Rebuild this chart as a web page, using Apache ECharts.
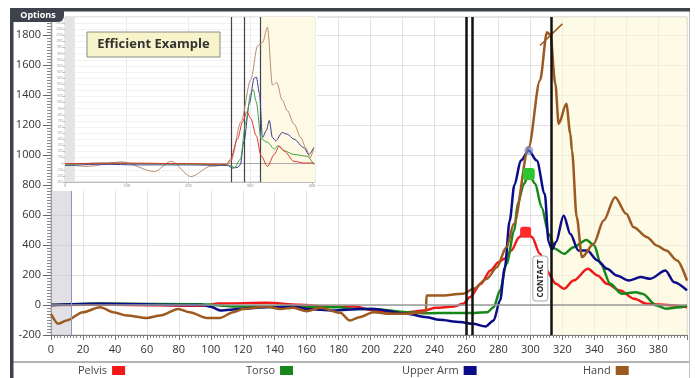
<!DOCTYPE html>
<html lang="en">
<head>
    <meta charset="UTF-8">
    <title>Kinematic sequence</title>
    <script src="https://cdn.jsdelivr.net/npm/echarts@6/dist/echarts.min.js"></script>
    <style>
        html, body { margin: 0; padding: 0; background: #fff; }
        #container { width: 695px; height: 378px; }
    </style>
</head>
<body>
<div id="container"></div>
<script type="text/javascript">
    // main chart: [frame, value]
    let pelvis = [[0,0],[40,2],[95,-5],[105,10],[135,15],[155,2],[175,-12],[190,-10],[201,-35],[212,-48],[223,-48],[233,-37],[241,-19],[252,-10],[258,8],[262,52],[269,141],[275,230],[280,285],[284,310],[288,363],[293,452],[296,485],[298,485],[301,452],[306,341],[310,230],[316,141],[321,108],[327,163],[336,241],[342,197],[348,141],[356,97],[365,41],[373,8],[381,3],[390,-3],[398,-15]];
    let torso = [[0,0],[30,10],[95,5],[114,-10],[135,-10],[156,-15],[181,-15],[187,-26],[202,-26],[223,-48],[235,-55],[250,-53],[265,-53],[273,-48],[277,-15],[281,97],[285,274],[290,497],[292,674],[296,808],[299,874],[303,808],[307,652],[311.5,474],[315.6,374],[321,341],[327,385],[335,434],[340,397],[344,274],[350,141],[357,75],[366,85],[370,75],[379,-3],[385,-25],[393,-15],[398,-3]];
    let upperArm = [[0,0],[30,8],[95,0],[100,-12],[106,-37],[118,-26],[135,-15],[152,-10],[160,-26],[177,-37],[193,-26],[202,-26],[223,-59],[235,-81],[243,-99],[256,-114],[264,-125],[272,-143],[277,-103],[281,30],[284,250],[287,560],[290,800],[294,963],[299,1030],[304,963],[309,741],[311.4,420],[313.5,370],[316,420],[320.8,597],[325,474],[330,363],[335.5,363],[342,297],[348,241],[354,197],[361.5,163],[369,186],[375,175],[384.5,230],[390,152],[398,97]];
    let hand = [[0,-59],[4.6,-125],[9.8,-103],[20,-48],[30.7,-15],[39,-48],[47.4,-70],[60,-86],[68.5,-70],[79.7,-26],[86.8,-48],[97.5,-86],[105.8,-86],[114,-48],[120,-26],[135,-10],[143.4,-26],[151.7,-19],[160,-41],[168.4,-19],[181,-52],[187,-103],[193,-81],[201.8,-48],[212,-59],[222.7,-59],[233,-48],[234.6,-45],[235,63],[243,63],[258,75],[264.4,108],[272.8,175],[279,252],[285,385],[289.7,541],[298.9,1052],[306,1497],[310.4,1819],[312.5,1800],[315.6,1475],[317.7,1208],[322.5,1341],[325,1141],[326,1030],[329,585],[332.3,319],[339.6,408],[345.8,563],[353,719],[360,608],[364.6,519],[373,452],[379,397],[385,363],[391.8,297],[398,163]];
    let peaks = {pelvis: [297, 485], torso: [299, 874], upperArm: [299, 1030]};
    let handTangent = [[306, 1730], [320, 1874]];
    let eventLines = [260, 263.5, 313];
    let startBand = [0, 12.5];
    let contactBand = [313, 398];
    let contactLabelAt = [306.2, 177];

    // inset "Efficient Example"
    let effPelvis = [[0,0],[100,10],[200,0],[262,-10],[268,72],[279.6,406],[287.6,683],[294.6,850],[301,739],[309.7,461],[317.7,128],[328,-44],[339,150],[347,289],[355,206],[371,39],[387,11],[403,11]];
    let effTorso = [[0,-20],[60,10],[120,0],[200,-10],[263,-20],[275,-60],[284,72],[293,683],[301,1155],[305,1211],[309.7,1017],[317.7,406],[328,350],[339,239],[344.6,294],[355,211],[371,150],[392,122],[403,-17]];
    let effUpperArm = [[0,-30],[60,-10],[120,-20],[200,-20],[263,-30],[272,-72],[280,-60],[284,-17],[290,372],[298.6,983],[306.5,1400],[310,1417],[315,1150],[320,428],[326,539],[331,706],[336,428],[341.4,372],[352,511],[360,483],[371,400],[387,261],[395,150],[403,261]];
    let effHand = [[0,-17],[37,-44],[91,30],[145,-128],[172,39],[204,-211],[236,-44],[263,-17],[269,50],[285,683],[301,1372],[312,1928],[320,1980],[328,2233],[336,1289],[343,1328],[352,1039],[360,872],[371,650],[382,428],[390,261],[397,94],[403,261]];
    let effEventLines = [269, 290.5, 317];
    let effStartBand = [0, 16];
    let effContactBand = [317, 405];

    let font = 'Open Sans';
    let dom = document.getElementById("container");
    let myChart = echarts.init(dom);
    let plain = function(v){ return String(v); };

    let legendBase = {
        padding: 0, align: 'right', icon: 'rect', itemWidth: 13, itemHeight: 9, top: 365,
        textStyle: {fontSize: 11, color: '#444', fontFamily: font}
    };
    let mainLine = function(name, data, color, extra){
        return Object.assign({
            name: name, type: 'line', xAxisIndex: 0, yAxisIndex: 0, data: data,
            showSymbol: false, smooth: 0.3, smoothMonotone: 'x', z: 3,
            lineStyle: {color: color, width: 2.5},
            itemStyle: {color: color}
        }, extra || {});
    };
    let insetLine = function(name, data, color){
        return {
            name: name, type: 'line', xAxisIndex: 1, yAxisIndex: 1, data: data,
            showSymbol: false, smooth: 0.3, smoothMonotone: 'x', z: 10, silent: true,
            lineStyle: {color: color, width: 1}, itemStyle: {color: color}
        };
    };

    let option = {
        animation: false,
        textStyle: {fontFamily: font},
        legend: [
            Object.assign({data: ['Pelvis'], left: 78}, legendBase),
            Object.assign({data: ['Torso'], left: 246}, legendBase),
            Object.assign({data: ['Upper Arm'], left: 402}, legendBase),
            Object.assign({data: ['Hand'], left: 583}, legendBase)
        ],
        grid: [
            {left: 51, top: 17, right: 8, bottom: 43, show: true, borderColor: '#c8c8c8', borderWidth: 1},
            {left: 65, top: 17, width: 250, height: 165, show: true, backgroundColor: '#fff', borderColor: '#d0d0d0', borderWidth: 1, z: 6}
        ],
        xAxis: [
            {
                type: 'value', gridIndex: 0, min: 0, max: 398, interval: 20,
                axisLine: {onZero: false, lineStyle: {color: '#777'}},
                axisTick: {length: 5, lineStyle: {color: '#777'}},
                minorTick: {show: true, splitNumber: 10, length: 3, lineStyle: {color: '#888'}},
                axisLabel: {fontSize: 11, color: '#333', margin: 9, showMaxLabel: false, formatter: plain},
                splitLine: {lineStyle: {color: '#e2e2e2'}}
            },
            {
                type: 'value', gridIndex: 1, min: 0, max: 405, interval: 100, z: 7,
                axisLine: {onZero: false, lineStyle: {color: '#bbb'}},
                axisTick: {length: 2, lineStyle: {color: '#bbb'}},
                axisLabel: {fontSize: 4, color: '#888', margin: 2, showMaxLabel: false, formatter: plain},
                splitLine: {lineStyle: {color: '#ececec'}}
            }
        ],
        yAxis: [
            {
                type: 'value', gridIndex: 0, min: -200, max: 1920, interval: 200,
                axisLine: {show: true, onZero: false, lineStyle: {color: '#666'}},
                axisTick: {show: true, length: 8, lineStyle: {color: '#666'}},
                minorTick: {show: true, splitNumber: 10, length: 4, lineStyle: {color: '#888'}},
                axisLabel: {fontSize: 11, color: '#333', margin: 10, showMaxLabel: false, formatter: plain},
                splitLine: {lineStyle: {color: '#e2e2e2'}}
            },
            {
                type: 'value', gridIndex: 1, min: -300, max: 2400, interval: 100, z: 7,
                axisLine: {show: true, onZero: false, lineStyle: {color: '#ccc'}},
                axisTick: {show: true, length: 2, lineStyle: {color: '#bbb'}},
                axisLabel: {fontSize: 3, color: '#999', margin: 2, showMaxLabel: false, formatter: plain},
                splitLine: {lineStyle: {color: '#f2f2f2'}}
            }
        ],
        series: [
            {
                name: 'bands', type: 'line', xAxisIndex: 0, yAxisIndex: 0, data: [[0, 0]],
                showSymbol: false, lineStyle: {width: 0}, z: 1, silent: true,
                markArea: {
                    silent: true,
                    data: [
                        [{xAxis: startBand[0], itemStyle: {color: 'rgba(200,200,208,0.55)'}}, {xAxis: startBand[1]}],
                        [{xAxis: contactBand[0], itemStyle: {color: 'rgba(252,246,210,0.55)'}}, {xAxis: contactBand[1]}]
                    ]
                },
                markLine: {
                    silent: true, symbol: 'none', label: {show: false},
                    data: [
                        {yAxis: 0, lineStyle: {color: '#9a9a9a', width: 1.5, type: 'solid'}},
                        {xAxis: startBand[1], lineStyle: {color: '#8f96bd', width: 1, type: 'solid'}}
                    ]
                }
            },
            mainLine('Pelvis', pelvis, '#f01818', {
                markPoint: {silent: true, label: {show: false}, data: [{coord: peaks.pelvis, symbol: 'roundRect', symbolSize: [11, 11], itemStyle: {color: '#ff2b2b'}}]}
            }),
            mainLine('Torso', torso, '#16881a', {
                markPoint: {silent: true, label: {show: false}, data: [{coord: peaks.torso, symbol: 'roundRect', symbolSize: [12, 12], itemStyle: {color: '#2fc52f'}}]}
            }),
            mainLine('Upper Arm', upperArm, '#0c0c8a', {
                markPoint: {silent: true, label: {show: false}, data: [{coord: peaks.upperArm, symbol: 'circle', symbolSize: 9, itemStyle: {color: 'rgba(110,130,200,0.6)'}}]}
            }),
            mainLine('Hand', hand, '#9c5a20', {
                markLine: {
                    silent: true, symbol: 'none', label: {show: false},
                    data: [
                        [{coord: handTangent[0], lineStyle: {color: '#9c5a20', width: 1.5, type: 'solid'}}, {coord: handTangent[1]}],
                        {xAxis: eventLines[0], lineStyle: {color: '#111', width: 2.5, type: 'solid'}},
                        {xAxis: eventLines[1], lineStyle: {color: '#111', width: 2.5, type: 'solid'}},
                        {xAxis: eventLines[2], lineStyle: {color: '#111', width: 2.5, type: 'solid'}}
                    ]
                }
            }),
            {
                name: 'effBands', type: 'line', xAxisIndex: 1, yAxisIndex: 1, data: [[0, 0]],
                showSymbol: false, lineStyle: {width: 0}, z: 8, silent: true,
                markArea: {
                    silent: true, z: 8,
                    data: [
                        [{xAxis: effStartBand[0], itemStyle: {color: '#e4e4e4'}}, {xAxis: effStartBand[1]}],
                        [{xAxis: effContactBand[0], itemStyle: {color: '#fdf9e4'}}, {xAxis: effContactBand[1]}]
                    ]
                },
                markLine: {
                    silent: true, z: 9, symbol: 'none', label: {show: false},
                    data: [
                        {yAxis: 0, lineStyle: {color: '#aaa', width: 1, type: 'solid'}},
                        {xAxis: effEventLines[0], lineStyle: {color: '#444', width: 1.2, type: 'solid'}},
                        {xAxis: effEventLines[1], lineStyle: {color: '#444', width: 1.2, type: 'solid'}},
                        {xAxis: effEventLines[2], lineStyle: {color: '#444', width: 1.2, type: 'solid'}}
                    ]
                }
            },
            insetLine('effHand', effHand, '#b98c6c'),
            insetLine('effUpperArm', effUpperArm, '#3c3c92'),
            insetLine('effTorso', effTorso, '#3ea23e'),
            insetLine('effPelvis', effPelvis, '#e23434')
        ]
    };
    myChart.setOption(option);

    let contact = myChart.convertToPixel({gridIndex: 0}, contactLabelAt);
    let frame = '#3d424c';
    myChart.setOption({
        graphic: [
            {type: 'rect', z: 5, silent: true, shape: {x: 53, y: 15, width: 264, height: 176}, style: {fill: '#fff'}},
            {type: 'rect', z: 40, shape: {x: 87, y: 32, width: 133, height: 25}, style: {fill: '#f7f3cb', stroke: '#8a8a80', lineWidth: 1}},
            {type: 'text', z: 41, x: 153.5, y: 44.5, style: {text: 'Efficient Example', font: 'bold 13px ' + font, fill: '#333', align: 'center', verticalAlign: 'middle'}},
            {type: 'text', z: 30, x: contact[0], y: contact[1], rotation: Math.PI / 2,
                style: {text: 'CONTACT', font: 'bold 8px ' + font, fill: '#222', align: 'center', verticalAlign: 'middle',
                    backgroundColor: '#fff', borderColor: '#aaa', borderWidth: 1, borderRadius: 3, padding: [3, 3]}},
            {type: 'line', z: 30, shape: {x1: 13, y1: 362, x2: 690, y2: 362}, style: {stroke: '#9a9a9a', lineWidth: 1.5}},
            {type: 'line', z: 30, shape: {x1: 689.5, y1: 11, x2: 689.5, y2: 378}, style: {stroke: '#c4c4c4', lineWidth: 1}},
            {type: 'rect', z: 50, shape: {x: 10, y: 8, width: 680, height: 3.5}, style: {fill: frame}},
            {type: 'rect', z: 50, shape: {x: 10, y: 8, width: 3.5, height: 370}, style: {fill: frame}},
            {type: 'rect', z: 51, shape: {x: 11, y: 8, width: 53, height: 14, r: [4, 0, 6, 0]}, style: {fill: frame}},
            {type: 'text', z: 52, x: 38, y: 15.5, style: {text: 'Options', font: 'bold 9px ' + font, fill: '#fff', align: 'center', verticalAlign: 'middle'}}
        ]
    });
</script>
</body>
</html>
